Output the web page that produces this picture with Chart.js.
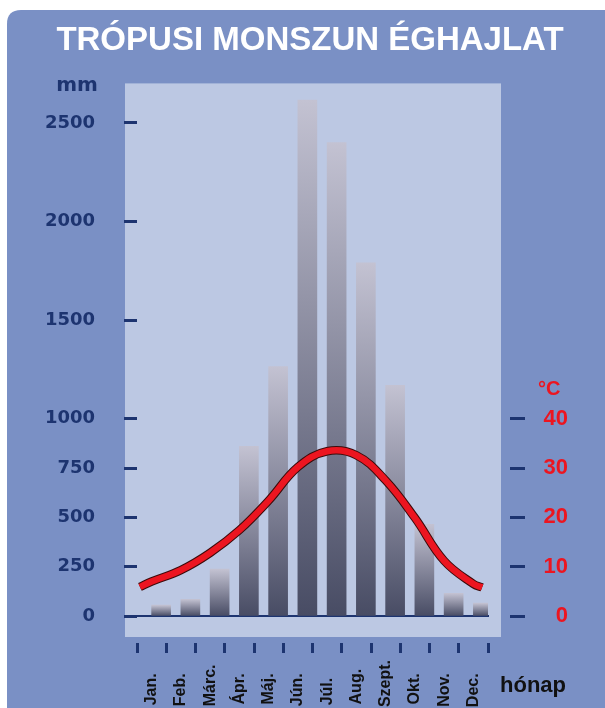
<!DOCTYPE html>
<html>
<head>
<meta charset="utf-8">
<script src="https://cdn.jsdelivr.net/npm/chart.js@4/dist/chart.umd.min.js"></script>
<style>
  html, body { margin: 0; padding: 0; background: #ffffff; }
  #wrap { width: 605px; height: 708px; position: relative; }
</style>
</head>
<body>
<div id="wrap"><canvas id="c" width="605" height="708"></canvas></div>
<script>
// ---- data ----
const months = ['Jan.', 'Feb.', 'Márc.', 'Ápr.', 'Máj.', 'Jún.', 'Júl.', 'Aug.', 'Szept.', 'Okt.', 'Nov.', 'Dec.'];
const precipitation = [55, 85, 238, 860, 1265, 2615, 2400, 1790, 1170, 465, 115, 65];   // mm
const temperature = [7.0, 9.3, 12.8, 17.4, 23.4, 30.2, 33.4, 32.6, 27.5, 19.9, 11.2, 6.5]; // °C
const curveStart = { x: -0.4, y: 5.9 };  // where the drawn curve begins (left end)
const curveEnd = { x: 11.3, y: 5.8 };    // where the drawn curve ends (right end)
const mmTicks = [0, 250, 500, 750, 1000, 1500, 2000, 2500];
const tempTicks = [0, 10, 20, 30, 40];
const titleText = 'TRÓPUSI MONSZUN ÉGHAJLAT';

// ---- styles ----
const NAVY = '#1d3470';
const RED = '#ec1520';
const BLUE_BG = '#7a90c5';
const PLOT_BG = '#bcc8e3';
const MONTH_FONT = { family: '"Liberation Sans", Arial, sans-serif', size: 16, weight: 'bold' };

// pad month labels with trailing spaces so they start at a common baseline (bottom)
const mctx = document.createElement('canvas').getContext('2d');
mctx.font = 'bold 16px "Liberation Sans", Arial, sans-serif';
const maxW = Math.max(...months.map(m => mctx.measureText(m).width));
const paddedMonths = months.map(m => {
  let s = m;
  while (mctx.measureText(s + ' ').width <= maxW + 1.5) s += ' ';
  return s;
});

const tempPoints = [curveStart, ...temperature.map((t, i) => ({ x: i, y: t })), curveEnd];

const bgPlugin = {
  id: 'bgPlugin',
  beforeDraw(chart) {
    const c = chart.ctx, ca = chart.chartArea;
    c.save();
    c.fillStyle = '#ffffff';
    c.fillRect(0, 0, chart.width, chart.height);
    const x = 7, y = 10, w = chart.width + 30, h = chart.height + 30, r = 14;
    c.beginPath();
    c.moveTo(x + r, y);
    c.lineTo(x + w, y);
    c.lineTo(x + w, y + h);
    c.lineTo(x, y + h);
    c.lineTo(x, y + r);
    c.quadraticCurveTo(x, y, x + r, y);
    c.closePath();
    c.fillStyle = BLUE_BG;
    c.fill();
    c.fillStyle = PLOT_BG;
    c.fillRect(ca.left - 12, ca.top, (ca.right + 13) - (ca.left - 12), (ca.bottom + 21) - ca.top);
    c.restore();
  },
  afterDraw(chart) {
    const c = chart.ctx;
    c.save();
    c.fillStyle = '#ffffff';
    c.font = 'bold 33px "Liberation Sans", Arial, sans-serif';
    c.textAlign = 'center';
    c.textBaseline = 'alphabetic';
    c.fillText(titleText, 310, 50);
    c.textBaseline = 'middle';
    c.fillStyle = NAVY;
    c.font = 'bold 20px "DejaVu Sans", Verdana, sans-serif';
    c.textAlign = 'center';
    c.fillText('mm', 77, 86);
    c.fillStyle = RED;
    c.font = 'bold 20px "Liberation Sans", Arial, sans-serif';
    c.textAlign = 'left';
    c.fillText('°C', 538, 389);
    c.fillStyle = '#111111';
    c.font = 'bold 22px "Liberation Sans", Arial, sans-serif';
    c.textBaseline = 'alphabetic';
    c.fillText('hónap', 500, 692);
    c.restore();
  }
};

function barGradient(context) {
  const chart = context.chart;
  const ys = chart.scales && chart.scales.y;
  if (!ys || context.type !== 'data') return '#70748a';
  const top = ys.getPixelForValue(context.raw);
  const bot = ys.getPixelForValue(0);
  if (!isFinite(top) || !isFinite(bot) || top === bot) return '#70748a';
  const g = chart.ctx.createLinearGradient(0, top, 0, bot);
  g.addColorStop(0, '#c3c2d2');
  g.addColorStop(1, '#484c64');
  return g;
}

new Chart(document.getElementById('c'), {
  type: 'bar',
  data: {
    labels: paddedMonths,
    datasets: [
      {
        type: 'line',
        label: 'hőmérséklet',
        data: tempPoints,
        xAxisID: 'x2',
        yAxisID: 'y2',
        borderColor: RED,
        borderWidth: 6.5,
        pointRadius: 0,
        tension: 0.4,
        fill: false,
        order: 1
      },
      {
        type: 'line',
        label: 'körvonal',
        data: tempPoints,
        xAxisID: 'x2',
        yAxisID: 'y2',
        borderColor: '#3c0b0b',
        borderWidth: 8.5,
        pointRadius: 0,
        tension: 0.4,
        fill: false,
        order: 2
      },
      {
        type: 'bar',
        label: 'csapadék',
        data: precipitation,
        xAxisID: 'x',
        yAxisID: 'y',
        backgroundColor: barGradient,
        barThickness: 19,
        order: 3
      }
    ]
  },
  options: {
    responsive: false,
    animation: false,
    events: [],
    layout: { padding: { left: 0, right: 37, top: 83.4, bottom: 0 } },
    plugins: {
      legend: { display: false },
      tooltip: { enabled: false },
      title: { display: false }
    },
    scales: {
      x: {
        type: 'category',
        position: 'bottom',
        offset: true,
        grid: {
          offset: true,
          drawOnChartArea: false,
          drawTicks: true,
          tickLength: 37,
          tickWidth: 3,
          tickColor: NAVY,
          tickBorderDash: [0, 26, 11, 60]
        },
        border: { display: true, color: NAVY, width: 2 },
        ticks: {
          autoSkip: false,
          minRotation: 90,
          maxRotation: 90,
          padding: 7,
          color: '#111111',
          font: MONTH_FONT
        },
        afterFit(scale) { scale.height = 92; }
      },
      x2: {
        type: 'linear',
        display: false,
        offset: false,
        min: -0.5,
        max: 11.5
      },
      y: {
        type: 'linear',
        position: 'left',
        min: 0,
        max: 2700,
        grid: {
          drawOnChartArea: false,
          drawTicks: true,
          tickLength: 33,
          tickWidth: 3,
          tickColor: NAVY,
          tickBorderDash: [0, 20, 13, 60]
        },
        border: { display: false },
        ticks: {
          padding: 9,
          color: NAVY,
          font: { family: '"DejaVu Sans", Verdana, sans-serif', size: 18, weight: 'bold' },
          callback: (v) => String(v)
        },
        afterBuildTicks(scale) { scale.ticks = mmTicks.map(v => ({ value: v })); },
        afterFit(scale) { scale.width = 137; }
      },
      y2: {
        type: 'linear',
        position: 'right',
        min: 0,
        max: 108,
        grid: {
          drawOnChartArea: false,
          drawTicks: true,
          tickLength: 37,
          tickWidth: 3,
          tickColor: NAVY,
          tickBorderDash: [0, 22, 15, 60]
        },
        border: { display: false },
        ticks: {
          padding: 6,
          crossAlign: 'far',
          color: RED,
          font: { family: '"Liberation Sans", Arial, sans-serif', size: 22, weight: 'bold' },
          callback: (v) => String(v)
        },
        afterBuildTicks(scale) { scale.ticks = tempTicks.map(v => ({ value: v })); },
        afterFit(scale) { scale.width = 80; }
      }
    }
  },
  plugins: [bgPlugin]
});
</script>
</body>
</html>
